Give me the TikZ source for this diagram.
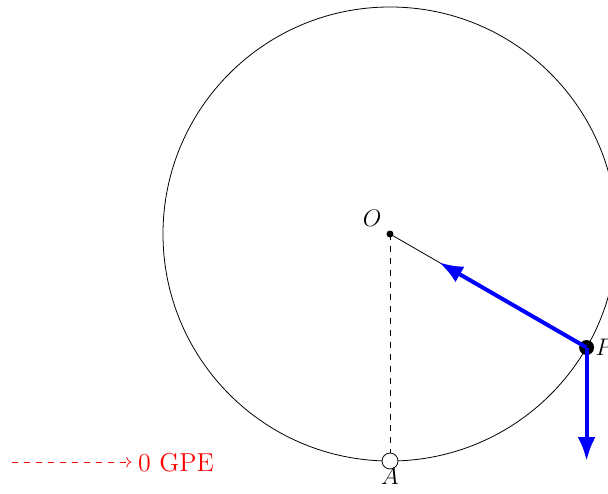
\documentclass[tikz,border=0pt]{standalone}
\usepackage{tikz}
\usetikzlibrary{arrows.meta,calc}
\begin{document}
\begin{tikzpicture}[font=\fontsize{13}{15}\selectfont]
\useasboundingbox (-6.872,-4.564) rectangle (3.841,4.123);
\coordinate (O) at (0,0);
\coordinate (P) at (-30:4);
\coordinate (A) at (0,-4);
\draw (O) circle (4);
\draw[dashed] (O) -- (A);
\draw (O) -- (P);
\node[circle,fill,inner sep=0pt,minimum size=3.5pt,label={[label distance=-1pt]150:$O$}] (o) at (O) {};
\node[circle,fill,inner sep=0pt,minimum size=7.5pt,label={[label distance=-3pt]right:$P$}] (p) at (P) {};
\node[circle,draw,fill=white,inner sep=0pt,minimum size=8pt,label={[label distance=-4pt]below:$A$}] (a) at (A) {};
\draw[blue,line width=2pt,-{Latex}] (P) -- ($(P)!3cm!(O)$);
\draw[blue,line width=2pt,-{Latex}] (P) -- ++(0,-2);
\node[red] (gpe) at (-3.77,-4.02) {0 GPE};
\coordinate (gstart) at (-6.66,-4.02);
\draw[red,dashed,->] (gstart) -- (gpe.west);
\end{tikzpicture}
\end{document}
